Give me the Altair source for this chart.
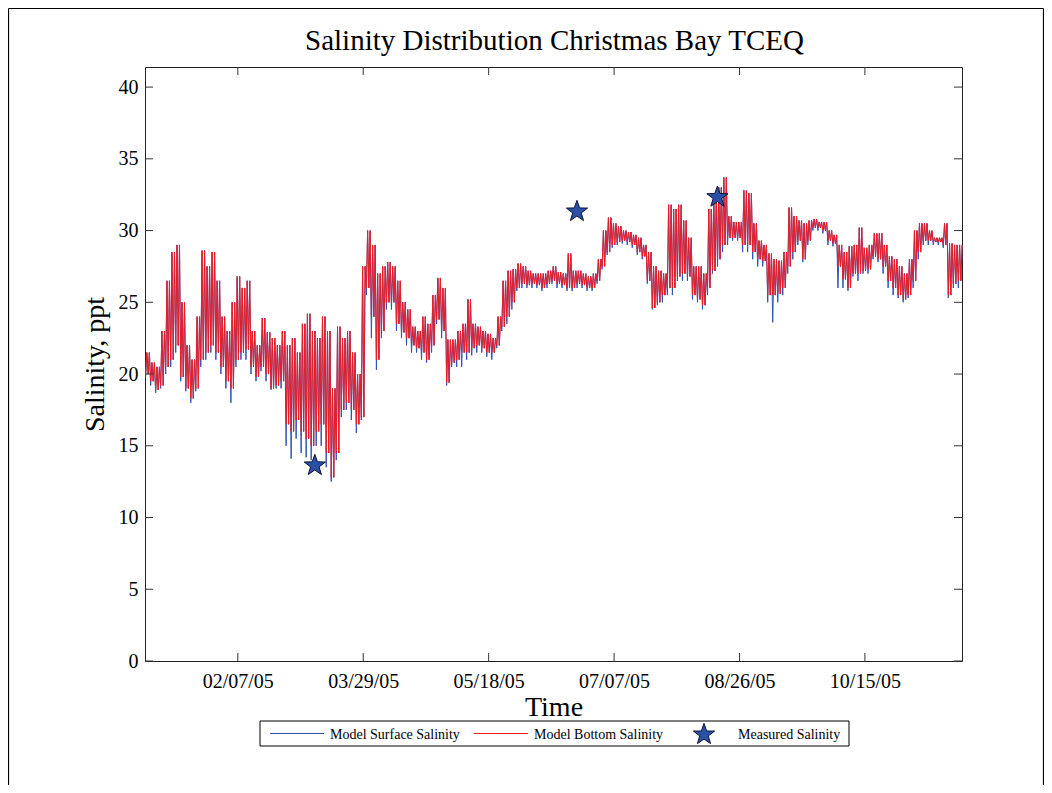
import math
import pandas as pd
import altair as alt

# ---- model series: 2-day envelope (ppt) ----
bottom_lo = [20.0, 19.5, 18.9, 19.2, 20.5, 21.0, 22.0, 19.8, 19.0, 18.3,
             19.0, 21.0, 21.5, 22.0, 21.5, 20.5, 19.5, 19.0, 21.0, 21.5,
             21.7, 20.5, 19.8, 20.5, 20.0, 19.0, 19.2, 19.5, 16.5, 16.0,
             16.8, 16.0, 15.5, 15.0, 16.0, 16.5, 14.5, 12.8, 14.5, 17.5,
             18.0, 17.5, 16.5, 17.0, 26.0, 24.0, 21.0, 23.0, 25.0, 25.0,
             23.5, 22.9, 22.5, 22.0, 21.8, 21.5, 21.0, 22.0, 23.8, 23.0,
             19.4, 20.8, 21.0, 21.5, 21.5, 21.8, 22.0, 21.8, 21.5, 21.5,
             22.0, 23.3, 24.0, 25.0, 26.0, 26.3, 26.2, 26.3, 26.2, 26.0,
             26.3, 26.5, 26.3, 26.2, 26.0, 26.0, 26.3, 26.2, 26.0, 26.0,
             26.5, 27.5, 28.5, 29.0, 29.2, 29.3, 29.2, 29.0, 28.5, 28.2,
             26.5, 24.6, 25.0, 25.5, 26.0, 26.0, 26.8, 27.0, 26.8, 25.5,
             25.2, 24.8, 26.0, 27.2, 28.0, 29.0, 29.5, 29.5, 29.5, 29.0,
             29.0, 28.5, 28.0, 27.9, 25.5, 25.5, 25.6, 26.0, 27.5, 28.5,
             29.3, 28.0, 29.3, 30.2, 30.2, 30.0, 29.3, 29.1, 27.5, 26.6,
             26.0, 27.0, 27.0, 27.2, 27.3, 28.2, 28.0, 27.5, 26.5, 26.0,
             25.5, 25.2, 25.5, 26.5, 28.5, 29.3, 29.3, 29.2, 29.2, 29.0,
             25.5, 26.3, 26.5]
bottom_hi = [21.5, 20.8, 20.5, 23.0, 26.5, 28.5, 29.0, 25.0, 22.0, 21.0,
             24.0, 28.6, 27.5, 28.5, 26.5, 24.0, 23.0, 25.0, 26.8, 26.0,
             26.5, 23.0, 22.0, 23.9, 22.9, 22.5, 22.0, 23.0, 22.0, 22.5,
             21.5, 23.5, 24.2, 23.0, 22.5, 24.0, 23.0, 19.0, 23.3, 22.5,
             23.0, 21.5, 20.0, 27.5, 30.0, 29.0, 27.0, 27.5, 27.8, 27.5,
             26.5, 25.0, 24.5, 23.3, 23.0, 24.0, 23.5, 25.5, 26.7, 26.0,
             22.4, 22.4, 23.0, 23.5, 25.2, 23.5, 23.3, 23.0, 22.8, 22.5,
             24.0, 26.5, 27.2, 27.3, 27.7, 27.5, 27.2, 27.0, 27.0, 27.0,
             27.2, 27.5, 27.1, 27.0, 28.4, 27.2, 27.2, 27.0, 26.8, 27.0,
             28.0, 30.0, 30.9, 30.5, 30.3, 30.0, 29.9, 29.7, 29.5, 29.0,
             28.5, 27.5, 27.2, 27.0, 31.8, 31.5, 31.8, 30.7, 29.5, 27.5,
             27.5, 27.0, 31.5, 32.5, 33.0, 33.7, 31.0, 30.6, 30.6, 32.8,
             32.6, 30.5, 29.3, 29.0, 28.4, 28.0, 27.9, 28.5, 31.6, 31.0,
             30.7, 30.5, 30.7, 30.8, 30.6, 30.6, 30.0, 29.7, 29.0, 28.5,
             28.9, 29.0, 30.2, 28.8, 29.0, 29.8, 29.8, 29.0, 28.2, 28.0,
             27.5, 27.0, 28.0, 30.0, 30.5, 30.5, 30.0, 29.5, 29.5, 30.5,
             29.1, 29.0, 29.0]
surface_lo = [19.8, 19.2, 18.7, 19.0, 20.0, 20.5, 21.5, 19.5, 18.8, 18.0,
              18.8, 20.5, 21.0, 21.5, 21.0, 20.0, 19.0, 18.0, 20.5, 21.0,
              21.0, 20.0, 19.5, 20.2, 19.5, 18.9, 19.0, 19.0, 15.0, 14.1,
              15.5, 14.5, 14.2, 14.0, 15.0, 15.0, 13.5, 12.5, 14.0, 17.0,
              17.5, 16.8, 15.9, 16.8, 25.5, 22.5, 20.3, 22.5, 24.5, 24.5,
              23.0, 22.5, 22.0, 21.5, 21.5, 21.0, 20.8, 21.5, 23.5, 22.5,
              19.2, 20.5, 20.5, 20.5, 21.0, 21.3, 21.5, 21.5, 21.2, 21.0,
              21.8, 23.0, 23.5, 24.5, 25.8, 26.0, 26.0, 26.0, 26.0, 25.8,
              26.0, 26.3, 26.0, 26.0, 25.8, 25.8, 26.0, 26.0, 25.8, 25.8,
              26.3, 27.3, 28.3, 28.8, 29.0, 29.1, 29.0, 28.8, 28.3, 28.0,
              26.3, 24.5, 24.8, 25.0, 25.5, 25.5, 26.5, 26.5, 26.5, 25.2,
              25.0, 24.5, 25.5, 27.0, 27.5, 28.5, 29.0, 29.3, 29.3, 28.5,
              28.5, 28.0, 27.5, 27.5, 25.0, 23.6, 25.0, 25.5, 27.0, 28.0,
              29.0, 27.8, 29.0, 30.0, 30.0, 29.8, 29.0, 28.9, 26.0, 26.0,
              25.8, 26.8, 26.5, 27.0, 27.0, 28.0, 27.8, 27.0, 26.0, 25.5,
              25.3, 25.0, 25.3, 26.0, 28.0, 29.0, 29.0, 29.0, 29.0, 28.8,
              25.3, 26.0, 26.0]

# ---- measured salinity (stars) ----
measured_dates = ["2005-03-09T17:00:00Z", "2005-06-22T05:00:00Z", "2005-08-17T05:00:00Z"]
measured_vals = [13.7, 31.4, 32.4]

# ---- axes ----
x_tick_dates = ["2005-02-07", "2005-03-29", "2005-05-18", "2005-07-07", "2005-08-26", "2005-10-15"]
y_ticks = [0, 5, 10, 15, 20, 25, 30, 35, 40]
x_start = "2005-01-01T00:00:00Z"
x_end = "2005-11-22T17:00:00Z"
series_names = ["Model Surface Salinity", "Model Bottom Salinity", "Measured Salinity"]
title_text = "Salinity Distribution Christmas Bay TCEQ"

BLUE = "#2f52b4"
RED = "#ee1c25"
STAR_FILL = "#2a51a6"
FONT = "Liberation Serif"
W, H = 817, 594
PL, PT, PR, PB = 137, 59, 82, 124

# ---- build tables ----
base = pd.Timestamp("2005-01-01", tz="UTC")
def iso(days):
    return (base + pd.Timedelta(days=days)).strftime("%Y-%m-%dT%H:%M:%SZ")

rows = []
for i in range(len(bottom_lo)):
    for j, off in enumerate((0.25, 0.75, 1.25, 1.75)):
        d = iso(2 * i + off)
        if j == 0:
            rows.append({"date": d, "value": surface_lo[i], "series": series_names[0]})
            rows.append({"date": d, "value": bottom_lo[i], "series": series_names[1]})
        elif j == 2:
            rows.append({"date": d, "value": bottom_lo[i], "series": series_names[0]})
            rows.append({"date": d, "value": bottom_lo[i], "series": series_names[1]})
        else:
            rows.append({"date": d, "value": bottom_hi[i], "series": series_names[0]})
            rows.append({"date": d, "value": bottom_hi[i], "series": series_names[1]})
model = pd.DataFrame(rows)
meas = pd.DataFrame({"date": measured_dates, "value": measured_vals})
yt = pd.DataFrame({"v": y_ticks})
xt = pd.DataFrame({"d": [d + "T00:00:00Z" for d in x_tick_dates]})

def dt(s):
    y, m, d = s[:10].split("-")
    return alt.DateTime(year=int(y), month=int(m), date=int(d), utc=True,
                        hours=int(s[11:13]) if len(s) > 10 else 0)

xscale = alt.Scale(type="utc", domain=[dt(x_start), dt(x_end)], nice=False)
yscale = alt.Scale(domain=[0, 41.4], nice=False, zero=False)

# five-point star path in the unit box
pts = []
for k in range(10):
    r = 1.0 if k % 2 == 0 else 0.4
    a = math.pi * k / 5
    pts.append((r * math.sin(a), -r * math.cos(a) + 0.095))
STAR = "M" + " L".join(f"{x:.3f},{y:.3f}" for x, y in pts) + " Z"

xaxis = alt.Axis(values=[dt(d) for d in x_tick_dates],
                 labelExpr="utcFormat(datum.value, '%m/%d/%y')",
                 title="Time", titleFont=FONT, titleFontSize=28, titleFontWeight="normal",
                 titleColor="black", titlePadding=2, labelFont=FONT, labelFontSize=20,
                 labelColor="black", labelPadding=10, ticks=False, tickSize=0, domain=False,
                 grid=False, labelFlush=False)
yaxis = alt.Axis(values=y_ticks, title="Salinity, ppt", titleFont=FONT, titleFontSize=28,
                 titleFontWeight="normal", titleColor="black", titlePadding=9,
                 labelFont=FONT, labelFontSize=20, labelColor="black", labelPadding=7,
                 ticks=False, tickSize=0, domain=False, grid=False)

X = alt.X("date:T", scale=xscale, axis=xaxis)
Y = alt.Y("value:Q", scale=yscale, axis=yaxis)

surface = alt.Chart(model).transform_filter(
    alt.datum.series == series_names[0]
).mark_line(color=BLUE, strokeWidth=1).encode(x=X, y=Y)
bottom = alt.Chart(model).transform_filter(
    alt.datum.series == series_names[1]
).mark_line(color=RED, strokeWidth=1).encode(x=X, y=Y)
stars = alt.Chart(meas).mark_point(shape=STAR, size=500, filled=True, fill=STAR_FILL,
                                   stroke="#111133", strokeWidth=1, opacity=1).encode(x=X, y=Y)

TL = 8
tick_col = "#333333"
ytick_l = alt.Chart(yt).mark_rule(color=tick_col).encode(
    y=alt.Y("v:Q", scale=yscale, axis=yaxis), x=alt.value(0), x2=alt.value(TL))
ytick_r = alt.Chart(yt).mark_rule(color=tick_col).encode(
    y=alt.Y("v:Q", scale=yscale, axis=yaxis), x=alt.value(W - TL), x2=alt.value(W))
xtick_b = alt.Chart(xt).mark_rule(color=tick_col).encode(
    x=alt.X("d:T", scale=xscale, axis=xaxis), y=alt.value(H), y2=alt.value(H - TL))
xtick_t = alt.Chart(xt).mark_rule(color=tick_col).encode(
    x=alt.X("d:T", scale=xscale, axis=xaxis), y=alt.value(0), y2=alt.value(TL))

# outer figure frame
one = pd.DataFrame({"k": [0]})
fr_top = alt.Chart(one).mark_rule(color="black", strokeWidth=1.2).encode(
    x=alt.value(-PL + 0.5), x2=alt.value(W + PR - 0.5), y=alt.value(-PT + 0.5))
fr_left = alt.Chart(one).mark_rule(color="black", strokeWidth=1.2).encode(
    x=alt.value(-PL + 0.5), y=alt.value(-PT + 0.5), y2=alt.value(H + PB))
fr_right = alt.Chart(one).mark_rule(color="black", strokeWidth=1.2).encode(
    x=alt.value(W + PR - 0.5), y=alt.value(-PT + 0.5), y2=alt.value(H + PB))

# chart title
title = alt.Chart(one).mark_text(font=FONT, fontSize=29, align="center",
                                 baseline="alphabetic", color="black").encode(
    x=alt.value(W / 2 + 1), y=alt.value(-17), text=alt.value(title_text))

# legend drawn below the axis
LX, LY, LW, LH = 115, 654, 589, 25
lg_box = alt.Chart(one).mark_rect(fill="white", stroke="black", strokeWidth=1).encode(
    x=alt.value(LX), x2=alt.value(LX + LW), y=alt.value(LY), y2=alt.value(LY + LH))
cy = LY + LH / 2
lg_l1 = alt.Chart(one).mark_rule(color=BLUE, strokeWidth=1).encode(
    x=alt.value(LX + 10), x2=alt.value(LX + 64), y=alt.value(cy))
lg_l2 = alt.Chart(one).mark_rule(color=RED, strokeWidth=1).encode(
    x=alt.value(LX + 214), x2=alt.value(LX + 268), y=alt.value(cy))
lg_star = alt.Chart(one).mark_point(shape=STAR, size=500, filled=True, fill=STAR_FILL,
                                    stroke="#111133", strokeWidth=1, opacity=1).encode(
    x=alt.value(LX + 444), y=alt.value(cy))
def lg_text(i, xpos):
    return alt.Chart(one).mark_text(font=FONT, fontSize=14, align="left",
                                    baseline="middle", color="black").encode(
        x=alt.value(xpos), y=alt.value(cy + 1), text=alt.value(series_names[i]))
lg_t1 = lg_text(0, LX + 70)
lg_t2 = lg_text(1, LX + 274)
lg_t3 = lg_text(2, LX + 478)

chart = alt.layer(
    surface, bottom, stars, ytick_l, ytick_r, xtick_b, xtick_t,
    fr_top, fr_left, fr_right, title, lg_box, lg_l1, lg_l2, lg_star, lg_t1, lg_t2, lg_t3,
).properties(
    width=W, height=H,
    autosize=alt.AutoSizeParams(type="none"),
    padding={"left": PL, "top": PT, "right": PR, "bottom": PB},
    background="white",
).configure_view(stroke="#222222", strokeWidth=1)

chart.save("out.html", embed_options={"renderer": "svg", "actions": False})
